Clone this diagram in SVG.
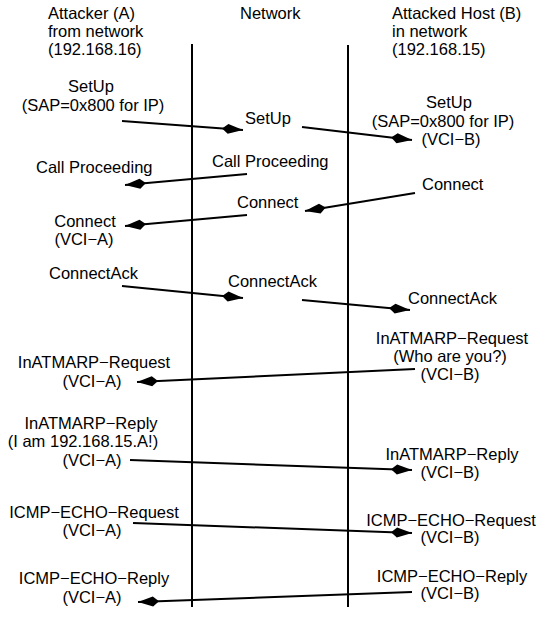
<svg xmlns="http://www.w3.org/2000/svg" width="550" height="621" viewBox="0 0 550 621">
<style>
text{font-family:"Liberation Sans",Arial,sans-serif;font-size:16.5px;fill:#000}
.m{text-anchor:middle}
.life{stroke:#000;stroke-width:2;fill:none}
.msg{stroke:#000;stroke-width:2;fill:none;marker-end:url(#ah)}
</style>
<defs>
<marker id="ah" viewBox="-22 -6 23 12" markerWidth="23" markerHeight="12" refX="0" refY="0" orient="auto" markerUnits="userSpaceOnUse">
<path d="M0,0 L-15,-5 L-21,0 L-15,5 Z" fill="#000"/>
</marker>
</defs>
<rect width="550" height="621" fill="#fff"/>
<g id="attacker"><text x="48" y="19">Attacker (A)</text><text x="48" y="37">from network</text><text x="48" y="55">(192.168.16)</text></g>
<g id="network"><text x="240" y="19">Network</text></g>
<g id="host"><text x="392" y="19">Attacked Host (B)</text><text x="392" y="37">in network</text><text x="392" y="55">(192.168.15)</text></g>
<g id="connectors">
<line class="life" x1="192" y1="44" x2="192" y2="607"/>
<line class="life" x1="348" y1="45" x2="348" y2="607"/>
<line class="msg" x1="122" y1="121" x2="243" y2="130"/>
<line class="msg" x1="302" y1="127" x2="412" y2="140"/>
<line class="msg" x1="247" y1="174" x2="125" y2="185"/>
<line class="msg" x1="415" y1="193" x2="305" y2="211"/>
<line class="msg" x1="247" y1="215" x2="125" y2="226"/>
<line class="msg" x1="122" y1="286" x2="243" y2="298"/>
<line class="msg" x1="302" y1="300" x2="410" y2="310"/>
<line class="msg" x1="415" y1="369" x2="137" y2="382"/>
<line class="msg" x1="130" y1="460" x2="412" y2="470"/>
<line class="msg" x1="133" y1="523" x2="412" y2="533"/>
<line class="msg" x1="412" y1="592" x2="138" y2="602"/>
</g>
<g id="lbl-setup-a"><text class="m" x="91" y="92">SetUp</text><text class="m" x="93" y="111">(SAP=0x800 for IP)</text></g>
<g id="lbl-setup-n"><text x="245" y="124">SetUp</text></g>
<g id="lbl-setup-b"><text class="m" x="449" y="108">SetUp</text><text class="m" x="443" y="127">(SAP=0x800 for IP)</text><text class="m" x="451" y="145">(VCI−B)</text></g>
<g id="lbl-callproc-a"><text x="36" y="173">Call Proceeding</text></g>
<g id="lbl-callproc-n"><text x="212" y="167">Call Proceeding</text></g>
<g id="lbl-connect-b"><text x="422" y="190">Connect</text></g>
<g id="lbl-connect-n"><text x="237" y="208">Connect</text></g>
<g id="lbl-connect-a"><text class="m" x="85" y="227">Connect</text><text class="m" x="84" y="245">(VCI−A)</text></g>
<g id="lbl-connack-a"><text x="49" y="279">ConnectAck</text></g>
<g id="lbl-connack-n"><text x="228" y="287">ConnectAck</text></g>
<g id="lbl-connack-b"><text x="408" y="304">ConnectAck</text></g>
<g id="lbl-arpreq-b"><text class="m" x="452" y="344">InATMARP−Request</text><text class="m" x="450" y="362">(Who are you?)</text><text class="m" x="450" y="380">(VCI−B)</text></g>
<g id="lbl-arpreq-a"><text class="m" x="94" y="368">InATMARP−Request</text><text class="m" x="92" y="387">(VCI−A)</text></g>
<g id="lbl-arprep-a"><text class="m" x="91" y="429">InATMARP−Reply</text><text class="m" x="83" y="447">(I am 192.168.15.A!)</text><text class="m" x="92" y="466">(VCI−A)</text></g>
<g id="lbl-arprep-b"><text class="m" x="452" y="460">InATMARP−Reply</text><text class="m" x="450" y="478">(VCI−B)</text></g>
<g id="lbl-echoreq-a"><text class="m" x="94" y="518">ICMP−ECHO−Request</text><text class="m" x="92" y="536">(VCI−A)</text></g>
<g id="lbl-echoreq-b"><text class="m" x="451" y="526">ICMP−ECHO−Request</text><text class="m" x="450" y="543">(VCI−B)</text></g>
<g id="lbl-echorep-b"><text class="m" x="452" y="582">ICMP−ECHO−Reply</text><text class="m" x="450" y="599">(VCI−B)</text></g>
<g id="lbl-echorep-a"><text class="m" x="94" y="584">ICMP−ECHO−Reply</text><text class="m" x="92" y="603">(VCI−A)</text></g>
</svg>
